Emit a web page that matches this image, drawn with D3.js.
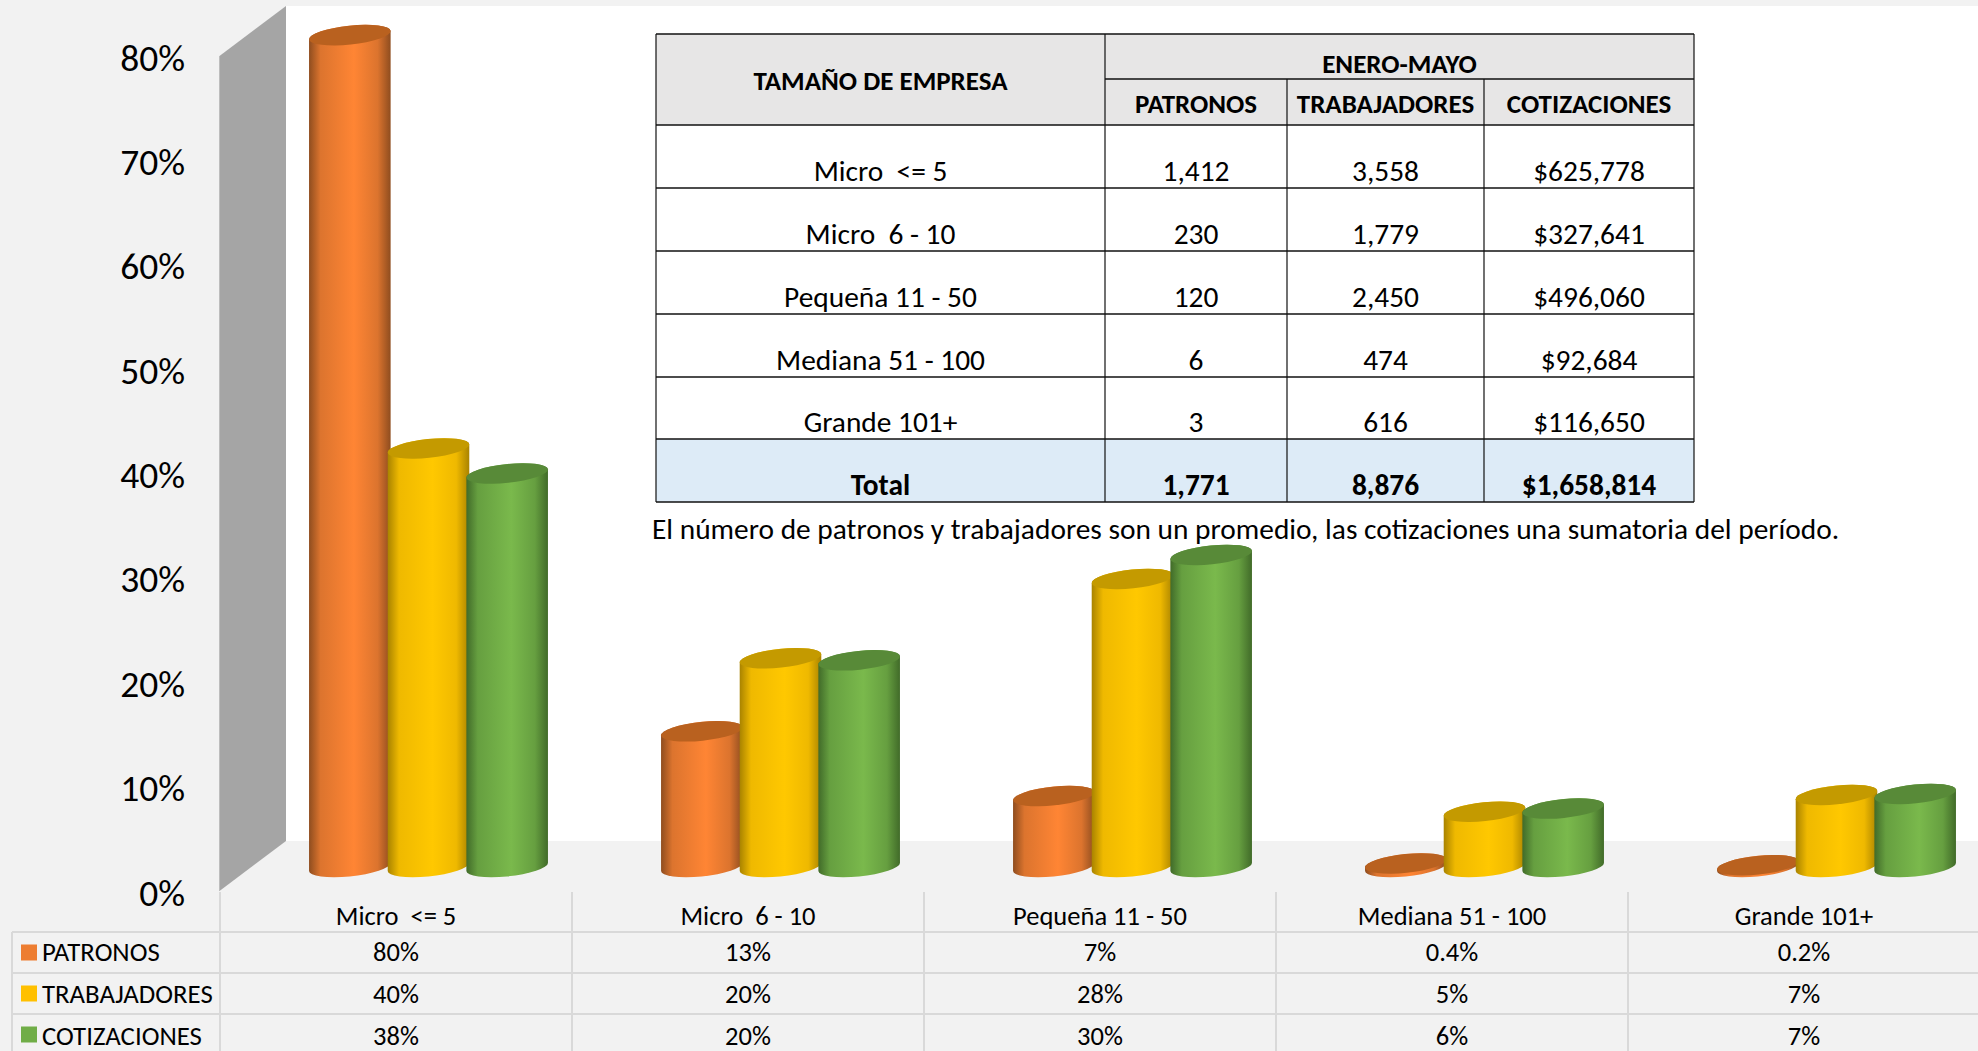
<!DOCTYPE html>
<html>
<head>
<meta charset="utf-8">
<script src="https://cdn.jsdelivr.net/npm/d3@7/dist/d3.min.js"></script>
<style>
    html, body { margin: 0; padding: 0; background: #f2f2f2; overflow: hidden; }
    text { font-family: Carlito, Calibri, Lato, sans-serif; fill: #000; }
</style>
</head>
<body>
<div id="chart"></div>
<script>
// chart data
const categories = ['Micro  <= 5', 'Micro  6 - 10', 'Pequeña 11 - 50', 'Mediana 51 - 100', 'Grande 101+']
const seriesNames = ['PATRONOS', 'TRABAJADORES', 'COTIZACIONES']
const patronos = [79.7, 13, 6.8, 0.34, 0.17]
const trabajadores = [40.1, 20, 27.6, 5.3, 6.9]
const cotizaciones = [37.7, 19.8, 29.9, 5.6, 7]
const patronosLabels = ['80%', '13%', '7%', '0.4%', '0.2%']
const trabajadoresLabels = ['40%', '20%', '28%', '5%', '7%']
const cotizacionesLabels = ['38%', '20%', '30%', '6%', '7%']
const yTicks = [0, 10, 20, 30, 40, 50, 60, 70, 80]

// inset table
const tableTitle = 'TAMAÑO DE EMPRESA'
const tablePeriod = 'ENERO-MAYO'
const tableSizes = ['Micro  <= 5', 'Micro  6 - 10', 'Pequeña 11 - 50', 'Mediana 51 - 100', 'Grande 101+', 'Total']
const tablePatronos = ['1,412', '230', '120', '6', '3', '1,771']
const tableTrabajadores = ['3,558', '1,779', '2,450', '474', '616', '8,876']
const tableCotizaciones = ['$625,778', '$327,641', '$496,060', '$92,684', '$116,650', '$1,658,814']
const note = 'El número de patronos y trabajadores son un promedio, las cotizaciones una sumatoria del período.'

const width = 1978
const height = 1051

const svg = d3.select('#chart').append('svg')
    .attr('width', width)
    .attr('height', height)
    .style('display', 'block')

const seriesValues = [patronos, trabajadores, cotizaciones]
const seriesLabels = [patronosLabels, trabajadoresLabels, cotizacionesLabels]
const seriesColors = [
    { id: 'orange', edge: '#8f4d1f', mid: '#dc742e', light: '#ff8534', cap: '#b9611f', key: '#ed7d31' },
    { id: 'yellow', edge: '#a98300', mid: '#efb900', light: '#ffc800', cap: '#c49a00', key: '#ffc000' },
    { id: 'green', edge: '#416b29', mid: '#669f40', light: '#7ab94c', cap: '#588a38', key: '#70ad47' }
]

// scales
const x0 = d3.scaleBand().domain(categories).range([220, 1980])
const x1 = d3.scaleBand().domain(seriesNames).range([0, 236])
const yAxisScale = d3.scaleLinear().domain([0, 80]).range([893, 58])
const y = d3.scaleLinear().domain([0, 80]).range([867, 32])

// gradients for the cylinders
const defs = svg.append('defs')
seriesColors.forEach(c => {
    const grad = defs.append('linearGradient').attr('id', 'grad-' + c.id)
    const stops = [[0, c.edge], [0.14, c.mid], [0.55, c.light], [0.84, c.mid], [1, c.edge]]
    stops.forEach(s => grad.append('stop').attr('offset', s[0]).attr('stop-color', s[1]))
})

// back wall, side wall
svg.append('rect')
    .attr('x', 286).attr('y', 6)
    .attr('width', width - 286).attr('height', 835)
    .attr('fill', '#fff')
svg.append('polygon')
    .attr('points', [[219.5, 56], [286, 6], [286, 841], [219.5, 891]].join(' '))
    .attr('fill', '#a5a5a5')
svg.append('line')
    .attr('x1', 219.5).attr('y1', 56).attr('x2', 219.5).attr('y2', 891)
    .attr('stroke', '#bdbdbd')

// y axis
const yAxis = svg.append('g')
    .attr('transform', 'translate(185,0)')
    .call(d3.axisLeft(yAxisScale).tickValues(yTicks).tickSize(0).tickPadding(0).tickFormat(d => d + '%'))
yAxis.select('.domain').remove()
yAxis.selectAll('text').style('font-size', '37.5px')

// cylinders
const rx = 41
const ry = 9.4
const tilt = -6 * Math.PI / 180
const halfW = Math.sqrt(rx * rx * Math.cos(tilt) ** 2 + ry * ry * Math.sin(tilt) ** 2)
const halfH = (rx * rx - ry * ry) * Math.sin(tilt) * Math.cos(tilt) / halfW

function cylinderPath(cx, yTop, yBase) {
    return 'M' + (cx - halfW) + ',' + (yTop - halfH)
        + 'L' + (cx - halfW) + ',' + (yBase - halfH)
        + 'A' + rx + ',' + ry + ' -6 0 0 ' + (cx + halfW) + ',' + (yBase + halfH)
        + 'L' + (cx + halfW) + ',' + (yTop + halfH)
        + 'A' + rx + ',' + ry + ' -6 0 0 ' + (cx - halfW) + ',' + (yTop - halfH) + 'Z'
}

const groupOffset = 90.5
seriesNames.forEach((name, s) => {
    const g = svg.append('g').attr('class', 'series')
    const c = seriesColors[s]
    const cx = (d, i) => x0(categories[i]) + groupOffset + x1(name) + x1.bandwidth() / 2
    g.selectAll('path')
        .data(seriesValues[s])
        .join('path')
        .attr('d', (d, i) => cylinderPath(cx(d, i), y(d), y(0)))
        .attr('fill', 'url(#grad-' + c.id + ')')
    g.selectAll('ellipse')
        .data(seriesValues[s])
        .join('ellipse')
        .attr('rx', rx).attr('ry', ry)
        .attr('transform', (d, i) => 'translate(' + cx(d, i) + ',' + y(d) + ') rotate(-6)')
        .attr('fill', c.cap)
})

// data table under the chart
const gridColor = '#d9d9d9'
const rowY = d3.scaleBand().domain(seriesNames).range([932, 1055])
const dataTable = svg.append('g')

rowY.domain().forEach(name => {
    dataTable.append('line')
        .attr('x1', 12).attr('x2', width)
        .attr('y1', rowY(name)).attr('y2', rowY(name))
        .attr('stroke', gridColor).attr('stroke-width', 2)
})
dataTable.append('line')
    .attr('x1', 12).attr('x2', 12).attr('y1', 932).attr('y2', height)
    .attr('stroke', gridColor).attr('stroke-width', 2)
categories.forEach(cat => {
    dataTable.append('line')
        .attr('x1', x0(cat)).attr('x2', x0(cat)).attr('y1', 892).attr('y2', height)
        .attr('stroke', gridColor).attr('stroke-width', 2)
    dataTable.append('text')
        .attr('x', x0(cat) + x0.bandwidth() / 2).attr('y', 916)
        .attr('text-anchor', 'middle').attr('dominant-baseline', 'central')
        .attr('font-size', 26.5).attr('xml:space', 'preserve')
        .text(cat)
})
seriesNames.forEach((name, s) => {
    // text sits a little off the row centre in the original
    const cy = rowY(name) + rowY.bandwidth() / 2
    const textY = cy + [-1, 0, 1][s]
    dataTable.append('rect')
        .attr('x', 21).attr('y', cy - 8)
        .attr('width', 16).attr('height', 16)
        .attr('fill', seriesColors[s].key)
    dataTable.append('text')
        .attr('x', 42).attr('y', textY)
        .attr('dominant-baseline', 'central')
        .attr('font-size', 26.8)
        .text(name)
    seriesLabels[s].forEach((label, i) => {
        dataTable.append('text')
            .attr('x', x0(categories[i]) + x0.bandwidth() / 2).attr('y', textY)
            .attr('text-anchor', 'middle').attr('dominant-baseline', 'central')
            .attr('font-size', 26.5)
            .text(label)
    })
})

// inset table
const colEdges = [656, 1105, 1287, 1484, 1694]
const rowEdges = [125, 188, 251, 314, 377, 439, 502]
const inset = svg.append('g')

inset.append('rect').attr('x', 656).attr('y', 34).attr('width', 1038).attr('height', 91).attr('fill', '#e7e6e6')
inset.append('rect').attr('x', 656).attr('y', 125).attr('width', 1038).attr('height', 314).attr('fill', '#fff')
inset.append('rect').attr('x', 656).attr('y', 439).attr('width', 1038).attr('height', 63).attr('fill', '#ddebf7')

function hLine(x1, x2, yy) {
    inset.append('line').attr('x1', x1).attr('x2', x2).attr('y1', yy).attr('y2', yy)
        .attr('stroke', '#111').attr('stroke-width', 1.5)
}
function vLine(xx, y1, y2) {
    inset.append('line').attr('x1', xx).attr('x2', xx).attr('y1', y1).attr('y2', y2)
        .attr('stroke', '#111').attr('stroke-width', 1.2)
}
hLine(656, 1694, 34)
hLine(1105, 1694, 79)
rowEdges.forEach(r => hLine(656, 1694, r))
vLine(656, 34, 502)
vLine(1105, 34, 502)
vLine(1287, 79, 502)
vLine(1484, 79, 502)
vLine(1694, 34, 502)

function cell(txt, xx, yy, size, bold) {
    inset.append('text')
        .attr('x', xx).attr('y', yy)
        .attr('text-anchor', 'middle').attr('dominant-baseline', 'central')
        .attr('font-size', size)
        .attr('font-weight', bold ? 700 : 400)
        .attr('xml:space', 'preserve')
        .text(txt)
}
const colCenter = i => (colEdges[i] + colEdges[i + 1]) / 2
cell(tableTitle, colCenter(0), 80, 27, true)
cell(tablePeriod, (colEdges[1] + colEdges[4]) / 2, 63.5, 27, true)
seriesNames.forEach((name, i) => cell(name, colCenter(i + 1), 103, 27, true))

tableSizes.forEach((label, i) => {
    const yy = rowEdges[i + 1] - 17
    const last = i == tableSizes.length - 1
    cell(label, colCenter(0), yy, 29.4, last)
    cell(tablePatronos[i], colCenter(1), yy, 29.4, last)
    cell(tableTrabajadores[i], colCenter(2), yy, 29.4, last)
    cell(tableCotizaciones[i], colCenter(3), yy, 29.4, last)
})

svg.append('text')
    .attr('x', 652).attr('y', 529)
    .attr('dominant-baseline', 'central')
    .attr('font-size', 29.4)
    .text(note)
</script>
</body>
</html>
